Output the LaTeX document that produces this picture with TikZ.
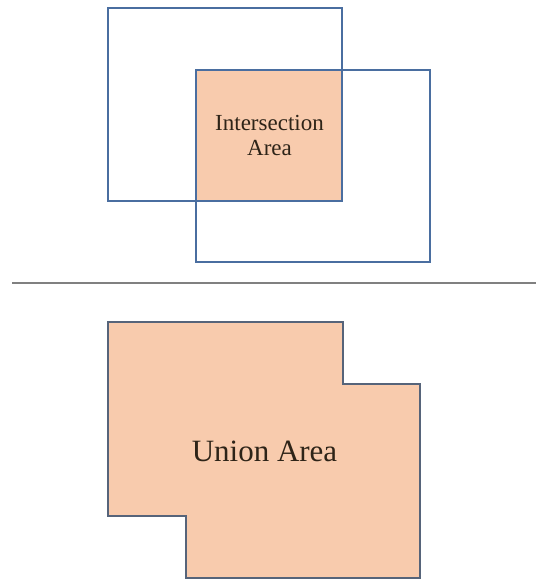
\documentclass[tikz,border=0pt]{standalone}
\usepackage{fontspec}
\setmainfont{Liberation Serif}
\definecolor{peach}{HTML}{F8CBAD}
\definecolor{boxblue}{HTML}{4A6EA0}
\definecolor{unionline}{HTML}{56647A}
\definecolor{sepgray}{HTML}{808080}
\definecolor{txt}{HTML}{2E2418}
\tikzset{
  rectbox/.style={draw=boxblue, line width=1.6pt, inner sep=0pt, minimum width=234pt},
  fillbox/.style={fill=peach, draw=none, inner sep=0pt},
  lbl/.style={text=txt, align=center, inner sep=0pt}
}
\begin{document}
\begin{tikzpicture}[x=1pt,y=-1pt]
\useasboundingbox (0,0) rectangle (536,580);
% intersection fill
\node[fillbox, minimum width=146pt, minimum height=131pt] (inter) at (269,135.5) {};
% rectangles
\node[rectbox, minimum height=193pt] (boxA) at (225,104.5) {};
\node[rectbox, minimum height=192pt] (boxB) at (313,166) {};
\node[lbl, font=\fontsize{23}{24.5}\selectfont] (interlbl) at (269.5,135.5) {Intersection\\Area};
% separator
\coordinate (sepL) at (12,283);
\coordinate (sepR) at (536,283);
\draw[sepgray, line width=1.8pt] (sepL) -- (sepR);
% union shape
\draw[fill=peach, draw=unionline, line width=1.6pt]
  (108,322) -- (343,322) -- (343,384) -- (420,384) -- (420,578)
  -- (186,578) -- (186,516) -- (108,516) -- cycle;
\node[lbl, anchor=base, font=\fontsize{31}{34}\selectfont] (unionlbl) at (264.5,461) {Union Area};
\end{tikzpicture}
\end{document}
